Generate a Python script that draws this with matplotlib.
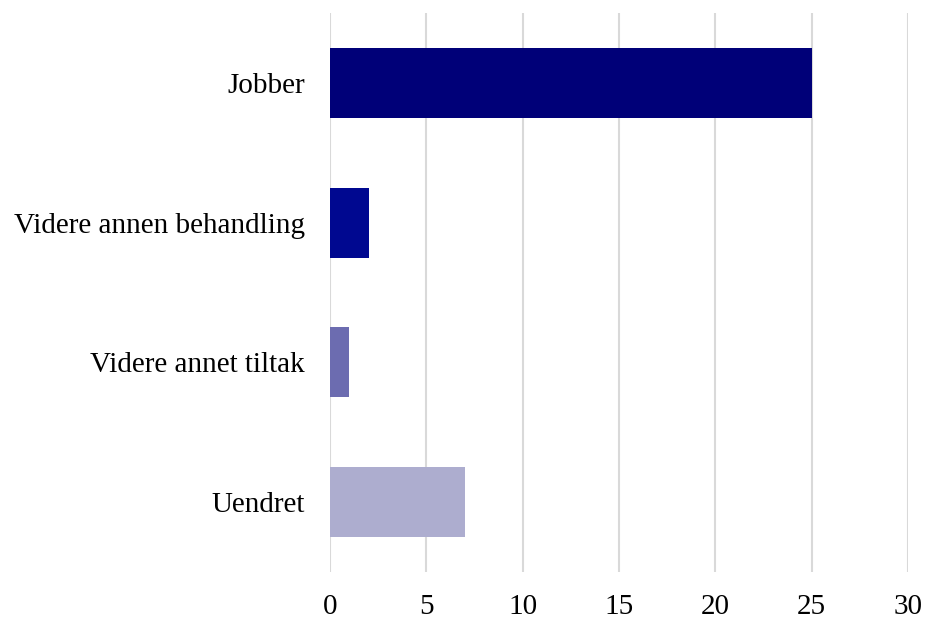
import matplotlib
matplotlib.use("Agg")
import matplotlib.pyplot as plt

categories = ["Jobber", "Videre annen behandling", "Videre annet tiltak", "Uendret"]
values = [25, 2, 1, 7]
colors = ["#000078", "#000890", "#6C6CB0", "#ADADCF"]
xticks = [0, 5, 10, 15, 20, 25, 30]

plt.rcParams['font.family'] = ['Liberation Serif', 'DejaVu Serif']

fig = plt.figure(figsize=(9.25, 6.19), dpi=100)
ax = fig.add_axes([330/925, 1 - 572/619, 578/925, (572-13)/619])

ax.barh(range(len(categories)), values, height=0.5, color=colors, zorder=3)
ax.set_ylim(3.5, -0.5)
ax.set_xlim(0, 30)
ax.set_xticks(xticks)
ax.set_yticks(range(len(categories)))
ax.set_yticklabels(categories)
ax.xaxis.grid(True, color="#D9D9D9", linewidth=1.5, zorder=0)
ax.set_axisbelow(True)
for s in ax.spines.values():
    s.set_visible(False)
ax.tick_params(axis='both', length=0, labelsize=21, colors="#000000")
ax.tick_params(axis='x', pad=16)
ax.tick_params(axis='y', pad=18)

fig.savefig("out.png", dpi=100, facecolor="white")
